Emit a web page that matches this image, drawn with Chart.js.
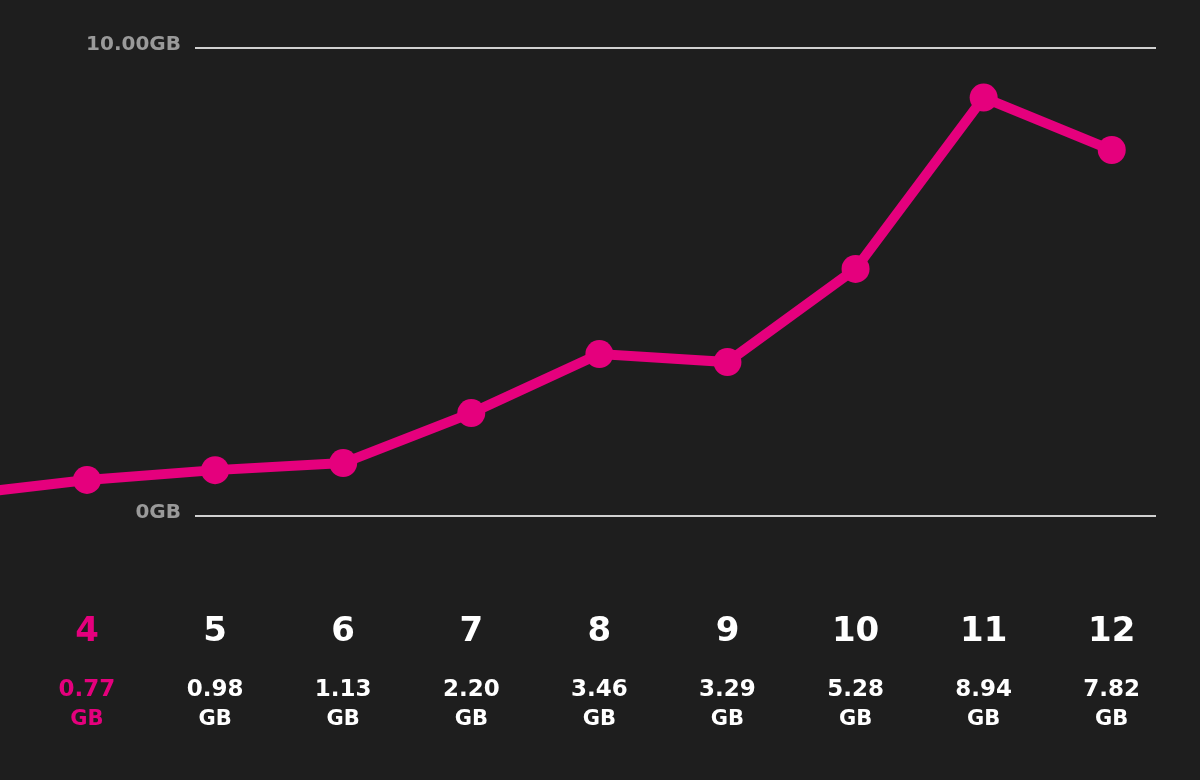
<!DOCTYPE html>
<html><head><meta charset="utf-8">
<script src="https://cdn.jsdelivr.net/npm/chart.js@4"></script>
<style>html,body{margin:0;padding:0;background:#1e1e1e;}#w{width:1200px;height:780px;}</style>
</head><body><div id="w"><canvas id="c"></canvas></div>
<script>
const categories = [3, 4, 5, 6, 7, 8, 9, 10, 11, 12];
const values = [0.45, 0.77, 0.98, 1.13, 2.20, 3.46, 3.29, 5.28, 8.94, 7.82];
const valueLabels = ["0.77", "0.98", "1.13", "2.20", "3.46", "3.29", "5.28", "8.94", "7.82"];
const yTicks = [0, 10];
const yTickLabels = ["0GB", "10.00GB"];
const PINK = '#e5007d';

const decor = {
  id: 'decor',
  beforeDatasetsDraw(chart) {
    const {ctx, scales: {x, y}} = chart;
    ctx.save();
    ctx.strokeStyle = '#d0d0d0'; ctx.lineWidth = 2;
    ctx.font = 'bold 20px "DejaVu Sans"'; ctx.fillStyle = '#9a9a9a';
    ctx.textAlign = 'right'; ctx.textBaseline = 'middle';
    yTicks.forEach((v, i) => {
      const py = Math.round(y.getPixelForValue(v));
      ctx.beginPath(); ctx.moveTo(195, py); ctx.lineTo(1156, py); ctx.stroke();
      ctx.fillText(yTickLabels[i], 181, py - 3);
    });
    ctx.restore();
  },
  afterDraw(chart) {
    const {ctx, scales: {x}} = chart;
    ctx.save(); ctx.textAlign = 'center'; ctx.textBaseline = 'middle';
    categories.slice(1).forEach((c, i) => {
      const px = x.getPixelForValue(c);
      ctx.fillStyle = i === 0 ? PINK : '#ffffff';
      ctx.font = 'bold 34px "DejaVu Sans"';
      ctx.fillText(String(c), px, 632);
      ctx.font = 'bold 23px "DejaVu Sans"';
      ctx.fillText(valueLabels[i], px, 690);
      ctx.font = 'bold 21px "DejaVu Sans"';
      ctx.fillText('GB', px, 720);
    });
    ctx.restore();
  }
};

new Chart(document.getElementById('c'), {
  type: 'line',
  data: { datasets: [{
    data: categories.map((c, i) => ({x: c, y: values[i]})),
    borderColor: PINK, backgroundColor: PINK, borderWidth: 10,
    pointRadius: categories.map((c) => c === 3 ? 0 : 14),
    pointHoverRadius: 14, pointBorderWidth: 0, tension: 0, clip: false
  }]},
  options: {
    responsive: true, maintainAspectRatio: false, animation: false,
    layout: { autoPadding: false, padding: { top: 48, bottom: 264, left: 0, right: 0 } },
    plugins: { legend: {display: false}, tooltip: {enabled: false} },
    scales: {
      x: { type: 'linear', display: false, min: 3.321, max: 12.689 },
      y: { display: false, min: 0, max: 10 }
    }
  },
  plugins: [decor]
});
</script></body></html>
